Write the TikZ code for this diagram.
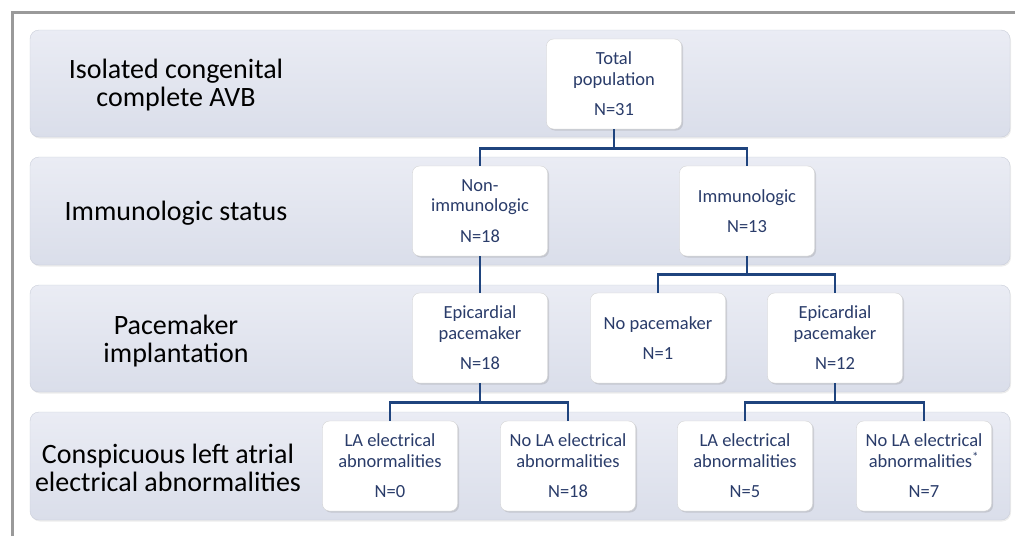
\documentclass[tikz,border=0pt]{standalone}
\usepackage{fontspec}
\setmainfont{Carlito}
\usepackage{tikz}
\usetikzlibrary{shadows}

\definecolor{bandtop}{HTML}{EAECF4}
\definecolor{bandbot}{HTML}{DADEEA}
\definecolor{bandline}{HTML}{C9CDD9}
\definecolor{linkblue}{HTML}{1F447E}
\definecolor{boxtext}{HTML}{2A3C6A}
\definecolor{framegray}{HTML}{9A9A9A}

\begin{document}
\begin{tikzpicture}[x=1pt, y=-1pt,
    band/.style = {draw=bandline, rounded corners=9pt, top color=bandtop, bottom color=bandbot,
                   drop shadow={opacity=0.15, shadow xshift=1pt, shadow yshift=-1.5pt}},
    lbl/.style = {align=center, font=\fontsize{28}{28.5}\selectfont, text=black},
    main/.style = {draw=gray!35, fill=white, rounded corners=7pt, minimum width=135pt, minimum height=90pt,
                   align=center, font=\fontsize{18.5}{20.5}\selectfont, text=boxtext, inner sep=1pt,
                   drop shadow={opacity=0.25, shadow xshift=1.5pt, shadow yshift=-1.5pt}},
    link/.style = {draw=linkblue, line width=2.6pt}]

    \useasboundingbox (0,0) rectangle (1015,536);

    % Okvir
    \draw[framegray, line width=3pt] (12,536) -- (12,12) -- (1015,12);

    % Pasovi
    \draw[band] (30,30) rectangle (1010,137);
    \draw[band] (30,157) rectangle (1010,265);
    \draw[band] (30,285) rectangle (1010,392);
    \draw[band] (30,412) rectangle (1010,520);

    % Oznake pasov
    \node[lbl] (l1) at (176,85) {Isolated congenital\\complete AVB};
    \node[lbl] (l2) at (176,213) {Immunologic status};
    \node[lbl] (l3) at (176,341) {Pacemaker\\implantation};
    \node[lbl] (l4) at (168,468) {Conspicuous left atrial\\electrical abnormalities};

    % Definicija vozlišč
    \node[main] (tot) at (614,84) {Total\\population\\[10pt]N=31};
    \node[main] (nim) at (480,211) {Non-\\immunologic\\[10pt]N=18};
    \node[main] (imm) at (747,211) {Immunologic\\[10pt]N=13};
    \node[main] (ep1) at (480,338) {Epicardial\\pacemaker\\[10pt]N=18};
    \node[main] (nop) at (658,338) {No pacemaker\\[10pt]N=1};
    \node[main] (ep2) at (835,338) {Epicardial\\pacemaker\\[10pt]N=12};
    \node[main] (la0) at (390,466) {LA electrical\\abnormalities\\[10pt]N=0};
    \node[main] (nla1) at (568,466) {No LA electrical\\abnormalities\\[10pt]N=18};
    \node[main] (la5) at (745,466) {LA electrical\\abnormalities\\[10pt]N=5};
    \node[main] (nla2) at (924,466) {No LA electrical\\abnormalities\textsuperscript{*}\\[10pt]N=7};

    % Risanje povezav
    \draw[link] (tot.south) -- ++(0,19) -| (nim.north);
    \draw[link] (tot.south) -- ++(0,19) -| (imm.north);
    \draw[link] (nim.south) -- (ep1.north);
    \draw[link] (imm.south) -- ++(0,18) -| (nop.north);
    \draw[link] (imm.south) -- ++(0,18) -| (ep2.north);
    \draw[link] (ep1.south) -- ++(0,19) -| (la0.north);
    \draw[link] (ep1.south) -- ++(0,19) -| (nla1.north);
    \draw[link] (ep2.south) -- ++(0,19) -| (la5.north);
    \draw[link] (ep2.south) -- ++(0,19) -| (nla2.north);

\end{tikzpicture}
\end{document}
